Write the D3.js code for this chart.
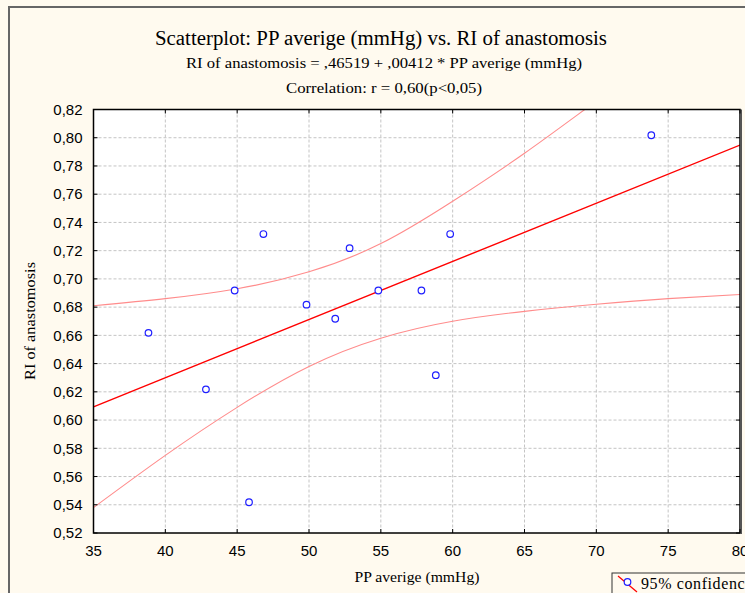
<!DOCTYPE html>
<html>
<head>
<meta charset="utf-8">
<script src="https://cdn.jsdelivr.net/npm/d3@7"></script>
<style>
  html, body { margin: 0; padding: 0; background: #fffaef; }
  svg { display: block; }
  .serif { font-family: "Liberation Serif", "Times New Roman", serif; fill: #000; }
  .tick-label { font-family: "Liberation Sans", Arial, sans-serif; font-size: 15px; fill: #000; }
</style>
</head>
<body>
<div id="chart"></div>
<script>
// --- data ---
const ppAverage = [39, 43, 45, 46, 47, 50, 52, 53, 55, 58, 59, 60, 74];
const riAnastomosis = [0.66, 0.62, 0.69, 0.54, 0.73, 0.68, 0.67, 0.72, 0.69, 0.69, 0.63, 0.73, 0.80];

// regression from the subtitle: RI = ,46519 + ,00412 * PP
const intercept = 0.46519, slope = 0.00412;

// 95% confidence band, read at every 5 mmHg
const bandX = [35, 40, 45, 50, 55, 60, 65, 70, 75, 80];
const bandUpper = [0.681, 0.686, 0.693, 0.705, 0.725, 0.755, 0.789, 0.826, 0.863, 0.901];
const bandLower = [0.538, 0.575, 0.609, 0.638, 0.658, 0.670, 0.677, 0.682, 0.686, 0.689];

const xTicks = [35, 40, 45, 50, 55, 60, 65, 70, 75, 80];
const yTicks = [0.52, 0.54, 0.56, 0.58, 0.60, 0.62, 0.64, 0.66, 0.68, 0.70, 0.72, 0.74, 0.76, 0.78, 0.80, 0.82];

const W = 745, H = 593;
const margin = { top: 109.5, right: 5, bottom: 60, left: 93.5 };
const width = W - margin.left - margin.right,
      height = H - margin.top - margin.bottom;

const svg = d3.select("#chart").append("svg")
  .attr("width", W)
  .attr("height", H);

// cream background and outer frame
svg.append("rect").attr("width", W).attr("height", H).attr("fill", "#fffaef");
svg.append("path")
  .attr("d", `M9,${H + 5} V7 H${W + 5}`)
  .attr("fill", "none")
  .attr("stroke", "#666")
  .attr("stroke-width", 2);

// titles
svg.append("text").attr("class", "serif")
  .attr("x", 381).attr("y", 45)
  .attr("text-anchor", "middle")
  .attr("font-size", 20)
  .attr("textLength", 452).attr("lengthAdjust", "spacingAndGlyphs")
  .text("Scatterplot: PP averige (mmHg) vs. RI of anastomosis");

svg.append("text").attr("class", "serif")
  .attr("x", 384).attr("y", 68)
  .attr("text-anchor", "middle")
  .attr("font-size", 14)
  .attr("textLength", 396).attr("lengthAdjust", "spacingAndGlyphs")
  .text("RI of anastomosis = ,46519 + ,00412 * PP averige (mmHg)");

svg.append("text").attr("class", "serif")
  .attr("x", 384).attr("y", 93)
  .attr("text-anchor", "middle")
  .attr("font-size", 14)
  .attr("textLength", 196).attr("lengthAdjust", "spacingAndGlyphs")
  .text("Correlation: r = 0,60(p<0,05)");

const g = svg.append("g")
  .attr("transform", `translate(${margin.left},${margin.top})`);

const x = d3.scaleLinear().domain([35, 80]).range([0, width]);
const y = d3.scaleLinear().domain([0.52, 0.82]).range([height, 0]);

// plot background
g.append("rect").attr("width", width).attr("height", height).attr("fill", "#fff");

// dashed grid
g.append("g").selectAll("line")
  .data(xTicks.slice(1, -1))
  .enter().append("line")
  .attr("x1", d => x(d)).attr("x2", d => x(d))
  .attr("y1", 0).attr("y2", height)
  .attr("stroke", "#c4c4c4").attr("stroke-dasharray", "3,2");

g.append("g").selectAll("line")
  .data(yTicks.slice(1, -1))
  .enter().append("line")
  .attr("x1", 0).attr("x2", width)
  .attr("y1", d => y(d)).attr("y2", d => y(d))
  .attr("stroke", "#c4c4c4").attr("stroke-dasharray", "3,2");

// clip for the lines
svg.append("defs").append("clipPath").attr("id", "plot-clip")
  .append("rect").attr("width", width).attr("height", height);

const plot = g.append("g").attr("clip-path", "url(#plot-clip)");

const bandLine = vals => d3.line()
  .x((d, i) => x(bandX[i]))
  .y((d, i) => y(vals[i]))
  .curve(d3.curveNatural)(bandX);

plot.append("path").attr("d", bandLine(bandUpper))
  .attr("fill", "none").attr("stroke", "#ff8c8c").attr("stroke-width", 1.1);
plot.append("path").attr("d", bandLine(bandLower))
  .attr("fill", "none").attr("stroke", "#ff8c8c").attr("stroke-width", 1.1);

// regression line
const xDomain = x.domain();
plot.append("line")
  .attr("x1", x(xDomain[0])).attr("y1", y(intercept + slope * xDomain[0]))
  .attr("x2", x(xDomain[1])).attr("y2", y(intercept + slope * xDomain[1]))
  .attr("stroke", "#ff0000").attr("stroke-width", 1.4);

// points (the original renderer draws markers ~2.5px up-left of their value)
g.append("g").attr("transform", "translate(-2.5,-2.5)")
  .selectAll("circle")
  .data(ppAverage)
  .enter().append("circle")
  .attr("cx", d => x(d))
  .attr("cy", (d, i) => y(riAnastomosis[i]))
  .attr("r", 3.3)
  .attr("fill", "#fff")
  .attr("stroke", "#1f1fff")
  .attr("stroke-width", 1.2);

// frame and inward ticks
g.append("rect").attr("width", width).attr("height", height)
  .attr("fill", "none").attr("stroke", "#000").attr("stroke-width", 1.5);
g.append("line")
  .attr("x1", width + 1).attr("x2", width + 1).attr("y1", 0).attr("y2", height + 1)
  .attr("stroke", "#555").attr("stroke-width", 2);

const tickLen = 4;
g.append("g").selectAll("path")
  .data(xTicks)
  .enter().append("path")
  .attr("d", d => `M${x(d)},0v${tickLen}M${x(d)},${height}v${-tickLen}`)
  .attr("stroke", "#000");
g.append("g").selectAll("path")
  .data(yTicks)
  .enter().append("path")
  .attr("d", d => `M0,${y(d)}h${tickLen}M${width},${y(d)}h${-tickLen}`)
  .attr("stroke", "#000");

// tick labels
const fmt = d3.format(".2f");
g.append("g").selectAll("text")
  .data(yTicks)
  .enter().append("text")
  .attr("class", "tick-label")
  .attr("x", -11).attr("y", d => y(d))
  .attr("dy", "0.35em")
  .attr("text-anchor", "end")
  .text(d => fmt(d).replace(".", ","));

g.append("g").selectAll("text")
  .data(xTicks)
  .enter().append("text")
  .attr("class", "tick-label")
  .attr("x", d => x(d)).attr("y", height + 23)
  .attr("text-anchor", "middle")
  .text(d => d);

// axis titles
svg.append("text").attr("class", "serif")
  .attr("x", 417).attr("y", 582)
  .attr("text-anchor", "middle")
  .attr("font-size", 14)
  .attr("textLength", 125).attr("lengthAdjust", "spacingAndGlyphs")
  .text("PP averige (mmHg)");

svg.append("text").attr("class", "serif")
  .attr("transform", "translate(35,321) rotate(-90)")
  .attr("text-anchor", "middle")
  .attr("font-size", 14)
  .attr("textLength", 118).attr("lengthAdjust", "spacingAndGlyphs")
  .text("RI of anastomosis");

// legend box (cut off by the window edge)
const lg = svg.append("g").attr("transform", "translate(612,573)");
lg.append("rect").attr("width", 160).attr("height", 40)
  .attr("fill", "#fffaef").attr("stroke", "#333").attr("stroke-width", 1);
lg.append("line").attr("x1", 6).attr("y1", 3).attr("x2", 25).attr("y2", 19)
  .attr("stroke", "#ff0000").attr("stroke-width", 1.2);
lg.append("circle").attr("cx", 15.5).attr("cy", 9).attr("r", 3.3)
  .attr("fill", "#fff").attr("stroke", "#1f1fff").attr("stroke-width", 1.2);
lg.append("text").attr("class", "serif")
  .attr("x", 29).attr("y", 16)
  .attr("font-size", 16)
  .attr("letter-spacing", 0.6)
  .text("95% confidence");
</script>
</body>
</html>
